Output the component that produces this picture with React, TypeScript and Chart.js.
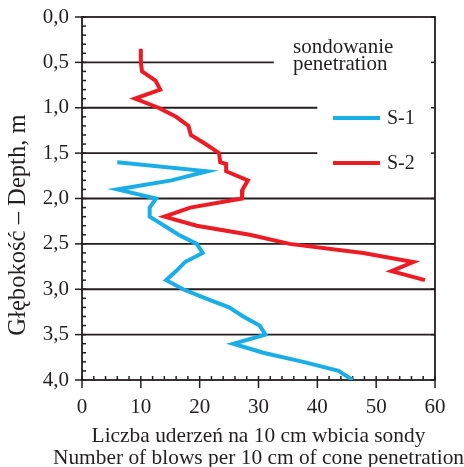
import React, { useEffect, useRef } from "react";
import { Chart, registerables } from "chart.js";

Chart.register(...registerables);

// ---- data ----
const S1_LABEL = "S-1";
const S1_DEPTH = [1.6, 1.7, 1.8, 1.9, 2.0, 2.1, 2.2, 2.3, 2.4, 2.5, 2.6, 2.7, 2.8, 2.9, 3.0, 3.1, 3.2, 3.3, 3.4, 3.5, 3.6, 3.7, 3.8, 3.9, 4.0];
const S1_BLOWS = [6, 21.3, 15.2, 6, 12.6, 11.5, 11.5, 14, 16.4, 19.5, 20.5, 17.5, 16, 14.3, 17.2, 21, 25, 27.4, 30.2, 31.2, 25.7, 30.8, 37.6, 43.6, 46];

const S2_LABEL = "S-2";
const S2_DEPTH = [0.35, 0.5, 0.6, 0.7, 0.8, 0.9, 1.0, 1.1, 1.2, 1.3, 1.4, 1.5, 1.6, 1.62, 1.7, 1.8, 1.9, 2.0, 2.1, 2.2, 2.3, 2.4, 2.5, 2.6, 2.7, 2.8, 2.9];
const S2_BLOWS = [10, 10, 10.2, 12.5, 13.3, 9, 13, 16, 18.1, 18.5, 21, 23.3, 23.5, 24.5, 24.5, 28.2, 27.3, 27.2, 18.4, 14, 19.5, 28.5, 35.3, 47.8, 56.3, 52.6, 58.3];

const X_TICK_LABELS = ["0", "10", "20", "30", "40", "50", "60"];
const Y_TICK_LABELS = ["0,0", "0,5", "1,0", "1,5", "2,0", "2,5", "3,0", "3,5", "4,0"];
const GRID_DEPTHS = [0.5, 1.0, 1.5, 2.0, 2.5, 3.0, 3.5];
const GRID_END_BLOWS = [32.6, 40, 40, 60, 60, 60, 60];

const X_TITLE = ["Liczba uderzeń na 10 cm wbicia sondy", "Number of blows per 10 cm of cone penetration"];
const Y_TITLE = "Głębokość – Depth, m";
const LEGEND_TITLE = ["sondowanie", "penetration"];

const INK = "#231f20";
const BLUE = "#1aaee8";
const RED = "#ec1c24";
const FONT = "'Liberation Serif', 'Times New Roman', serif";

const framePlugin = {
  id: "frame",
  beforeDatasetsDraw(chart: any) {
    const { ctx, chartArea: a, scales } = chart;
    const x = scales.x;
    const y = scales.y;
    ctx.save();
    ctx.strokeStyle = INK;
    ctx.lineWidth = 1.8;
    const seg = (x1: number, y1: number, x2: number, y2: number) => {
      ctx.beginPath();
      ctx.moveTo(x1, y1);
      ctx.lineTo(x2, y2);
      ctx.stroke();
    };
    GRID_DEPTHS.forEach((d, i) => {
      const py = y.getPixelForValue(d);
      seg(a.left, py, x.getPixelForValue(GRID_END_BLOWS[i]), py);
    });
    ctx.strokeRect(a.left, a.top, a.right - a.left, a.bottom - a.top);
    ctx.lineWidth = 1.5;
    for (let k = 0; k <= 40; k++) {
      const py = y.getPixelForValue(k / 10);
      const major = k % 5 === 0;
      seg(major ? a.left - 7 : a.left, py, a.left + 4, py);
      if (major) seg(a.right - 4, py, a.right, py);
    }
    for (let v = 0; v <= 60; v += 2) {
      const px = x.getPixelForValue(v);
      const major = v % 10 === 0;
      seg(px, a.bottom - 4, px, major ? a.bottom + 8 : a.bottom);
    }
    ctx.restore();
  },
  afterDatasetsDraw(chart: any) {
    const { ctx, chartArea: a } = chart;
    ctx.save();
    ctx.fillStyle = INK;
    // x title
    ctx.font = `21.4px ${FONT}`;
    ctx.textAlign = "center";
    ctx.textBaseline = "middle";
    const cx = (a.left + a.right) / 2;
    ctx.fillText(X_TITLE[0], cx, a.bottom + 56);
    ctx.fillText(X_TITLE[1], cx, a.bottom + 78);
    // y title
    ctx.save();
    ctx.translate(19, 225);
    ctx.rotate(-Math.PI / 2);
    ctx.font = `24.6px ${FONT}`;
    ctx.fillText(Y_TITLE, 0, 0);
    ctx.restore();
    // legend
    ctx.font = `21px ${FONT}`;
    ctx.textAlign = "left";
    ctx.textBaseline = "alphabetic";
    ctx.fillText(LEGEND_TITLE[0], a.left + 211, a.top + 36);
    ctx.fillText(LEGEND_TITLE[1], a.left + 211, a.top + 53);
    const items = chart.data.datasets;
    const rows = [a.top + 101, a.top + 146];
    items.forEach((ds: any, i: number) => {
      const ry = rows[i];
      ctx.strokeStyle = ds.borderColor;
      ctx.lineWidth = 4;
      ctx.beginPath();
      ctx.moveTo(a.left + 251, ry);
      ctx.lineTo(a.left + 298, ry);
      ctx.stroke();
      ctx.font = `20px ${FONT}`;
      ctx.textBaseline = "middle";
      ctx.fillText(ds.label, a.left + 305, ry + 1);
    });
    ctx.restore();
  },
};

export default function App() {
  const ref = useRef<HTMLCanvasElement | null>(null);
  useEffect(() => {
    if (!ref.current) return;
    const chart = new Chart(ref.current, {
      type: "line",
      data: {
        datasets: [
          {
            label: S1_LABEL,
            data: S1_DEPTH.map((d, i) => ({ x: S1_BLOWS[i], y: d })),
            borderColor: BLUE,
            borderWidth: 4,
            pointRadius: 0,
            fill: false,
            tension: 0,
          },
          {
            label: S2_LABEL,
            data: S2_DEPTH.map((d, i) => ({ x: S2_BLOWS[i], y: d })),
            borderColor: RED,
            borderWidth: 4,
            pointRadius: 0,
            fill: false,
            tension: 0,
          },
        ],
      },
      options: {
        animation: false,
        responsive: false,
        layout: { padding: { left: 0, top: 17, right: 29, bottom: 0 } },
        plugins: { legend: { display: false }, tooltip: { enabled: false } },
        scales: {
          x: {
            type: "linear",
            min: 0,
            max: 60,
            grid: { display: false, drawTicks: false },
            border: { display: false },
            ticks: {
              stepSize: 10,
              autoSkip: false,
              maxRotation: 0,
              padding: 15,
              color: INK,
              font: { family: FONT, size: 21 },
              callback: (v: any) => X_TICK_LABELS[Math.round(Number(v) / 10)],
            },
            afterFit: (s: any) => {
              s.height = 87;
              s.paddingLeft = 0;
              s.paddingRight = 0;
            },
          },
          y: {
            type: "linear",
            reverse: true,
            min: 0,
            max: 4,
            grid: { display: false, drawTicks: false },
            border: { display: false },
            ticks: {
              stepSize: 0.5,
              autoSkip: false,
              padding: 13,
              color: INK,
              font: { family: FONT, size: 21 },
              callback: (v: any) => Y_TICK_LABELS[Math.round(Number(v) / 0.5)],
            },
            afterFit: (s: any) => {
              s.width = 82;
              s.paddingTop = 0;
              s.paddingBottom = 0;
            },
          },
        },
      },
      plugins: [framePlugin],
    });
    return () => chart.destroy();
  }, []);
  return (
    <div style={{ position: "fixed", left: 0, top: 0, width: 464, height: 467, background: "#fff" }}>
      <canvas ref={ref} width={464} height={467} />
    </div>
  );
}
